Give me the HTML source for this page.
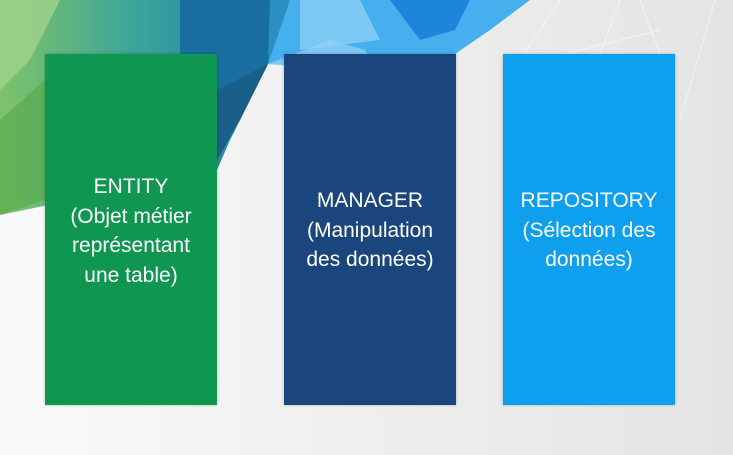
<!DOCTYPE html>
<html><head><style>
body{margin:0;width:733px;height:455px;overflow:hidden;background:#f3f3f3;font-family:"Liberation Sans",sans-serif;position:relative}
.b{position:absolute;top:54px;width:172px;height:351px;color:#fff;font-size:21px;text-align:center;line-height:29.5px;box-shadow:0 0 3px rgba(0,0,0,.25)}
</style></head><body>
<svg width="733" height="455" style="position:absolute;left:0;top:0">
<defs>
<linearGradient id="bg" x1="0" y1="0" x2="1" y2="0"><stop offset="0" stop-color="#fafafa"/><stop offset="1" stop-color="#e4e4e4"/></linearGradient>
<linearGradient id="g" x1="0" y1="0" x2="1" y2="0"><stop offset="0" stop-color="#7fc36a"/><stop offset="0.5" stop-color="#3aa59a"/><stop offset="1" stop-color="#1c7fae"/></linearGradient>
</defs>
<rect width="733" height="455" fill="url(#bg)"/>
<polygon points="0,0 270,0 268,64 255,90 230,140 217,170 0,215" fill="url(#g)"/>
<polygon points="0,0 60,0 30,60 0,90" fill="#9fd38a" opacity=".8"/>
<polygon points="0,120 45,80 45,200 0,215" fill="#5aab4e" opacity=".7"/>
<polygon points="180,0 395,0 440,72 268,64 245,110 217,140 217,54 180,54" fill="#186f9f"/>
<polygon points="270,0 365,0 390,20 268,64" fill="#2b8fc0"/>
<polygon points="268,64 240,120 217,160 217,90" fill="#1a5f8a"/>
<polygon points="290,0 530,0 490,30 455,54 440,72 268,64" fill="#46b0ee"/>
<polygon points="300,0 360,0 380,40 300,50" fill="#7cc8f5"/>
<polygon points="390,0 470,0 455,30 420,40" fill="#1d86dc"/>
<polygon points="268,64 330,40 365,50 380,75" fill="#8fd0f6" opacity=".8"/>
<g stroke="#fff" stroke-width="1" opacity=".5" fill="none">
<line x1="560" y1="0" x2="520" y2="60"/><line x1="620" y1="0" x2="600" y2="54"/><line x1="640" y1="0" x2="660" y2="54"/><line x1="715" y1="0" x2="680" y2="120"/><line x1="540" y1="60" x2="660" y2="30"/>
</g>
</svg>
<div class="b" style="left:45px;background:#0f9650;padding-top:118px;box-sizing:border-box">ENTITY<br>(Objet métier<br>représentant<br>une table)</div>
<div class="b" style="left:284px;background:#1b467d;padding-top:132px;box-sizing:border-box">MANAGER<br>(Manipulation<br>des données)</div>
<div class="b" style="left:503px;background:#0ea0ee;padding-top:132px;box-sizing:border-box">REPOSITORY<br>(Sélection des<br>données)</div>
</body></html>
